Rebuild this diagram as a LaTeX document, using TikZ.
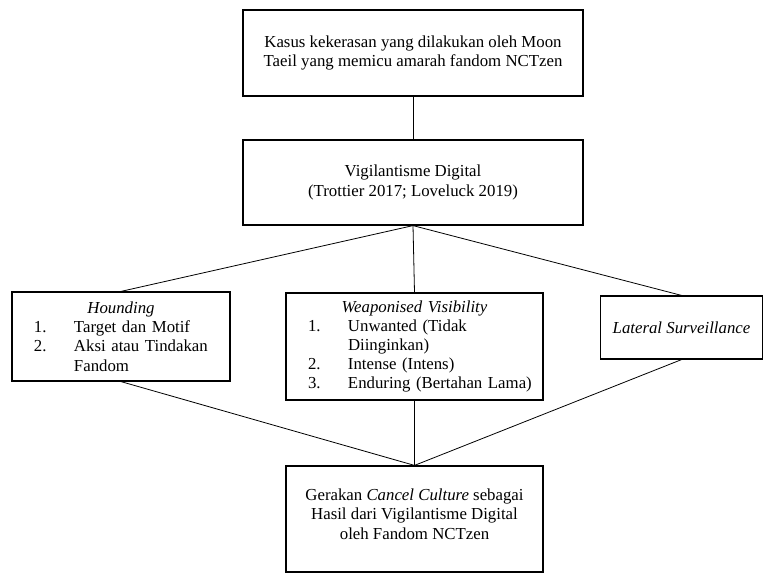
\documentclass[tikz,border=0pt]{standalone}
\usepackage{fontspec}
\setmainfont{Liberation Serif}
\newcommand{\numitem}[2]{\makebox[\linewidth][l]{\hspace{16.5pt}\makebox[30pt][l]{#1}#2}}

\begin{document}
\begin{tikzpicture}[x=0.75pt,y=-0.75pt,
  box/.style={draw,line width=0.9pt,rectangle,inner sep=0pt,align=center,
    font=\fontsize{12.6}{14.4}\selectfont},
  link/.style={line width=0.6pt}]
\useasboundingbox (0,0) rectangle (763,574);
\node[box,minimum width=255pt,minimum height=64.5pt] (kasus)at(413,53){Kasus kekerasan yang dilakukan oleh Moon\\Taeil yang memicu amarah fandom NCTzen};
\node[box,minimum width=255pt,minimum height=63.75pt] (vig)at(413,182.5){Vigilantisme Digital\\(Trottier 2017; Loveluck 2019)};
\node[box,minimum width=163.5pt,text width=163.5pt,minimum height=66.75pt] (hound)at(121,336.5){\textit{Hounding}\\
  \numitem{1.}{Target dan Motif}\\
  \numitem{2.}{Aksi atau Tindakan}\\
  \numitem{}{Fandom}};
\node[box,minimum width=192.75pt,text width=192.75pt,minimum height=80.25pt] (weap)at(414.5,346.5){\textit{Weaponised Visibility}\\
  \numitem{1.}{Unwanted (Tidak}\\
  \numitem{}{Diinginkan)}\\
  \numitem{2.}{Intense (Intens)}\\
  \numitem{3.}{Enduring (Bertahan Lama)}};
\node[box,minimum width=121.5pt,minimum height=47.25pt] (lat)at(681.5,327.5){\textit{Lateral Surveillance}};
\node[box,minimum width=192.75pt,minimum height=79.5pt] (cancel)at(414.5,519){Gerakan \textit{Cancel Culture} sebagai\\Hasil dari Vigilantisme Digital\\oleh Fandom NCTzen\\[-7pt]};
\draw[link] (kasus) -- (vig);
\draw[link] (vig.south) -- (hound.north);
\draw[link] (vig.south) -- (weap.north);
\draw[link] (vig.south) -- (lat.north);
\draw[link] (hound.south) -- (cancel.north);
\draw[link] (weap.south) -- (cancel.north);
\draw[link] (lat.south) -- (cancel.north);
\end{tikzpicture}
\end{document}
